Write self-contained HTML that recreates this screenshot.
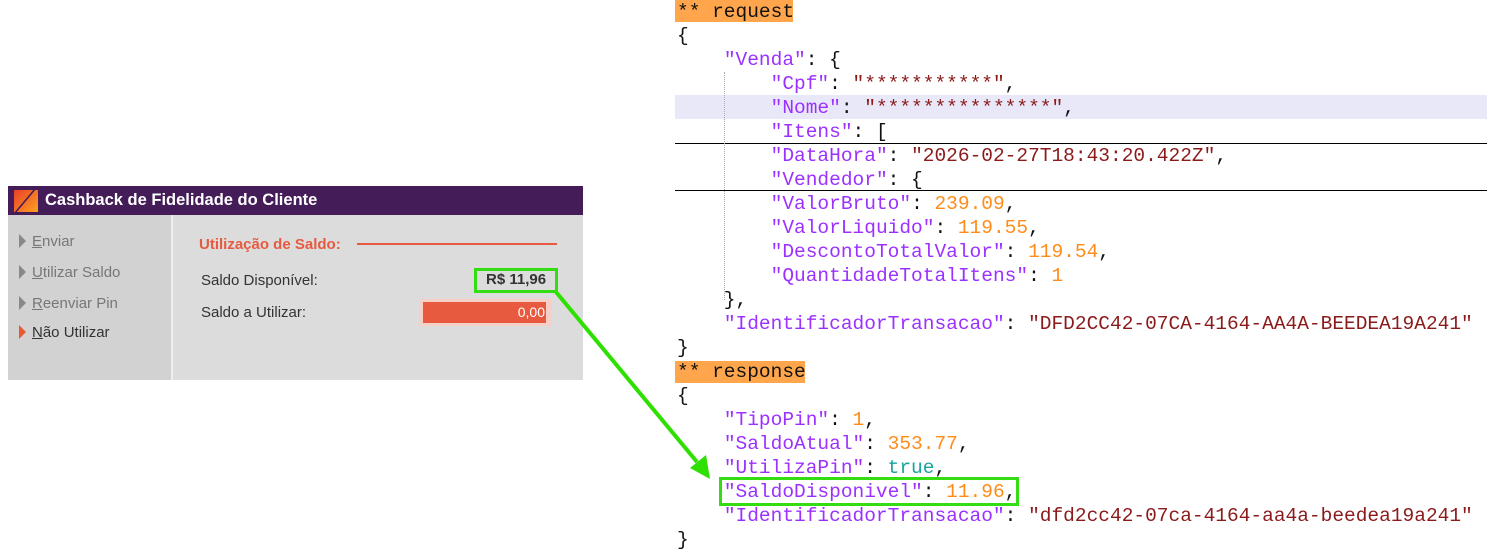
<!DOCTYPE html>
<html><head><meta charset="utf-8"><style>
*{margin:0;padding:0;box-sizing:border-box}
body{width:1487px;height:548px;background:#fff;position:relative;overflow:hidden;font-family:"Liberation Sans",sans-serif}
.a{position:absolute}
.code{position:absolute;left:677px;font-family:"Liberation Mono",monospace;font-size:19.5px;line-height:24px;white-space:pre;color:#111}
.k{color:#9b30ff}.s{color:#8b1a1a}.n{color:#ff8c1a}.t{color:#1aa59a}.p{color:#111}
.lbl{position:absolute;font-size:15px;color:#333}
.side{position:absolute;left:19px;font-size:15px;color:#777}
.side u{text-decoration:underline}
.tri{display:inline-block;width:0;height:0;border-top:7px solid transparent;border-bottom:7px solid transparent;border-left:7px solid #888;margin-right:6px;vertical-align:-2px}
</style></head><body>
<div class="a" style="left:8px;top:186px;width:575px;height:194px;background:#dcdcdc"></div>
<div class="a" style="left:8px;top:186px;width:575px;height:29px;background:#441c58"></div>
<div class="a" style="left:14px;top:190px;width:24px;height:22px;background:linear-gradient(135deg,#e8402a,#ffa020)"></div>
<div class="a" style="top:190px;width:2px;height:22px;background:#441c58;transform:skewX(-40deg);left:24px"></div>
<div class="a" style="left:45px;top:191px;color:#fff;font-size:16.5px;font-weight:bold">Cashback de Fidelidade do Cliente</div>
<div class="a" style="left:8px;top:215px;width:163px;height:165px;background:#d2d2d2"></div>
<div class="a" style="left:171px;top:215px;width:2px;height:165px;background:#eee"></div>
<div class="side" style="left:19px;top:233px"><span class="tri"></span><u>E</u>nviar</div>
<div class="side" style="left:19px;top:264px"><span class="tri"></span><u>U</u>tilizar Saldo</div>
<div class="side" style="left:19px;top:295px"><span class="tri"></span><u>R</u>eenviar Pin</div>
<div class="side" style="left:19px;top:324px;color:#333"><span class="tri" style="border-left-color:#e85a30"></span><u>N</u>ão Utilizar</div>
<div class="a" style="left:199px;top:236px;color:#e85a40;font-size:15px;font-weight:bold">Utilização de Saldo:</div>
<div class="a" style="left:357px;top:243px;width:200px;height:2px;background:#e85a40"></div>
<div class="lbl" style="left:201px;top:272px">Saldo Disponível:</div>
<div class="lbl" style="left:201px;top:304px">Saldo a Utilizar:</div>
<div class="a" style="left:486px;top:271px;font-size:15px;font-weight:bold;color:#333">R$ 11,96</div>
<div class="a" style="left:474px;top:268px;width:84px;height:25px;border:3px solid #33dd11"></div>
<div class="a" style="left:419px;top:299px;width:133px;height:27px;background:#f5d0c8"></div>
<div class="a" style="left:423px;top:302px;width:123px;height:21px;background:#e85a40;color:#fff;font-size:14px;text-align:right;padding-right:1px;line-height:21px">0,00</div>
<svg class="a" style="left:0;top:0" width="1487" height="548">
<line x1="556" y1="292" x2="697" y2="462" stroke="#2ee000" stroke-width="4"/>
<polygon points="710,479 690,468 706,455" fill="#2ee000"/>
</svg>
<div class="a" style="left:675px;top:95px;width:812px;height:24px;background:#e8e8f8"></div>
<div class="a" style="left:675px;top:143px;width:812px;height:1px;background:#000"></div>
<div class="a" style="left:675px;top:190px;width:812px;height:1px;background:#000"></div>
<div class="a" style="left:724px;top:72px;width:0;height:228px;border-left:1px dotted #aaa"></div>
<div class="a" style="left:675px;top:0px;width:118px;height:22px;background:#ffa64d"></div>
<div class="a" style="left:675px;top:361px;width:130px;height:22px;background:#ffa64d"></div>
<div class="code" style="top:0px">** request
{
    <span class="k">"Venda"</span>: {
        <span class="k">"Cpf"</span>: <span class="s">"***********"</span>,
        <span class="k">"Nome"</span>: <span class="s">"***************"</span>,
        <span class="k">"Itens"</span>: [
        <span class="k">"DataHora"</span>: <span class="s">"2026-02-27T18:43:20.422Z"</span>,
        <span class="k">"Vendedor"</span>: {
        <span class="k">"ValorBruto"</span>: <span class="n">239.09</span>,
        <span class="k">"ValorLiquido"</span>: <span class="n">119.55</span>,
        <span class="k">"DescontoTotalValor"</span>: <span class="n">119.54</span>,
        <span class="k">"QuantidadeTotalItens"</span>: <span class="n">1</span>
    },
    <span class="k">"IdentificadorTransacao"</span>: <span class="s">"DFD2CC42-07CA-4164-AA4A-BEEDEA19A241"</span>
}
** response
{
    <span class="k">"TipoPin"</span>: <span class="n">1</span>,
    <span class="k">"SaldoAtual"</span>: <span class="n">353.77</span>,
    <span class="k">"UtilizaPin"</span>: <span class="t">true</span>,
    <span class="k">"SaldoDisponivel"</span>: <span class="n">11.96</span>,
    <span class="k">"IdentificadorTransacao"</span>: <span class="s">"dfd2cc42-07ca-4164-aa4a-beedea19a241"</span>
}</div>
<div class="a" style="left:719px;top:477px;width:300px;height:29px;border:3px solid #33dd11"></div>
</body></html>
